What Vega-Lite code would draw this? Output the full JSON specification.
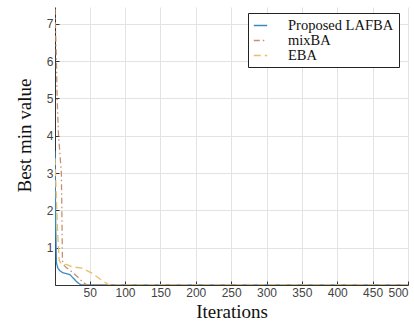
{
  "$schema": "https://vega.github.io/schema/vega-lite/v6.json",
  "width": 353,
  "height": 278,
  "autosize": "none",
  "padding": {"left": 55, "top": 7, "right": 6, "bottom": 36},
  "background": "white",
  "config": {
    "view": {"stroke": null},
    "axis": {
      "domainColor": "#333333",
      "gridColor": "#e3e3e3",
      "tickColor": "#333333",
      "labelColor": "#444444",
      "labelFont": "Liberation Sans",
      "labelFontSize": 11,
      "titleFont": "Liberation Serif",
      "titleFontSize": 19,
      "titleFontWeight": "normal",
      "titleColor": "#111111"
    }
  },
  "data": {
    "values": [
      {"series": "Proposed LAFBA", "iter": 1, "value": 3.6},
      {"series": "Proposed LAFBA", "iter": 2, "value": 1.6},
      {"series": "Proposed LAFBA", "iter": 3, "value": 0.6},
      {"series": "Proposed LAFBA", "iter": 5, "value": 0.45},
      {"series": "Proposed LAFBA", "iter": 8, "value": 0.38},
      {"series": "Proposed LAFBA", "iter": 12, "value": 0.33},
      {"series": "Proposed LAFBA", "iter": 16, "value": 0.31},
      {"series": "Proposed LAFBA", "iter": 22, "value": 0.28},
      {"series": "Proposed LAFBA", "iter": 27, "value": 0.18},
      {"series": "Proposed LAFBA", "iter": 31, "value": 0.1},
      {"series": "Proposed LAFBA", "iter": 34, "value": 0.05},
      {"series": "Proposed LAFBA", "iter": 38, "value": 0.0},
      {"series": "Proposed LAFBA", "iter": 500, "value": 0.0},
      {"series": "mixBA", "iter": 1, "value": 7.4},
      {"series": "mixBA", "iter": 3, "value": 6.0},
      {"series": "mixBA", "iter": 4, "value": 5.0},
      {"series": "mixBA", "iter": 6, "value": 4.0},
      {"series": "mixBA", "iter": 10, "value": 3.0},
      {"series": "mixBA", "iter": 11, "value": 1.5},
      {"series": "mixBA", "iter": 11.5, "value": 0.65},
      {"series": "mixBA", "iter": 13, "value": 0.55},
      {"series": "mixBA", "iter": 16, "value": 0.48},
      {"series": "mixBA", "iter": 22, "value": 0.4},
      {"series": "mixBA", "iter": 28, "value": 0.3},
      {"series": "mixBA", "iter": 34, "value": 0.2},
      {"series": "mixBA", "iter": 40, "value": 0.08},
      {"series": "mixBA", "iter": 46, "value": 0.0},
      {"series": "mixBA", "iter": 500, "value": 0.0},
      {"series": "EBA", "iter": 1, "value": 3.4},
      {"series": "EBA", "iter": 3, "value": 2.3},
      {"series": "EBA", "iter": 5, "value": 1.3},
      {"series": "EBA", "iter": 7, "value": 0.65},
      {"series": "EBA", "iter": 10, "value": 0.57},
      {"series": "EBA", "iter": 17, "value": 0.55},
      {"series": "EBA", "iter": 25, "value": 0.49},
      {"series": "EBA", "iter": 39, "value": 0.45},
      {"series": "EBA", "iter": 53, "value": 0.32},
      {"series": "EBA", "iter": 67, "value": 0.13},
      {"series": "EBA", "iter": 76, "value": 0.02},
      {"series": "EBA", "iter": 80, "value": 0.0},
      {"series": "EBA", "iter": 500, "value": 0.0}
    ]
  },
  "mark": {"type": "line", "strokeWidth": 1.3, "interpolate": "linear", "clip": true},
  "encoding": {
    "x": {
      "field": "iter",
      "type": "quantitative",
      "scale": {"domain": [1, 500], "nice": false, "zero": false},
      "axis": {
        "values": [50, 100, 150, 200, 250, 300, 350, 400, 450, 500],
        "title": "Iterations",
        "tickSize": -4,
        "labelPadding": 6,
        "labelFontSize": 12,
        "labelFlush": true,
        "labelOverlap": false,
        "titlePadding": 4,
        "grid": true
      }
    },
    "y": {
      "field": "value",
      "type": "quantitative",
      "scale": {"domain": [0, 7.45], "nice": false},
      "axis": {
        "values": [0, 1, 2, 3, 4, 5, 6, 7],
        "labelExpr": "datum.value == 0 ? '' : datum.label",
        "title": "Best min value",
        "tickSize": -4,
        "labelPadding": 6,
        "labelFontSize": 12,
        "titlePadding": 12,
        "titleY": 128,
        "grid": true
      }
    },
    "color": {
      "field": "series",
      "type": "nominal",
      "sort": ["Proposed LAFBA", "mixBA", "EBA"],
      "scale": {
        "domain": ["Proposed LAFBA", "mixBA", "EBA"],
        "range": ["#3a8abf", "#c8906f", "#e6c06a"]
      },
      "legend": {
        "title": null,
        "orient": "none",
        "legendX": 193,
        "legendY": 6,
        "direction": "vertical",
        "symbolType": "stroke",
        "symbolSize": 180,
        "symbolStrokeWidth": 1.3,
        "labelFont": "Liberation Serif",
        "labelFontSize": 14.5,
        "labelColor": "#111111",
        "labelOffset": 20,
        "rowPadding": 0,
        "padding": 5,
        "strokeColor": "#222222",
        "fillColor": "white",
        "labelLimit": 200
      }
    },
    "strokeDash": {
      "field": "series",
      "type": "nominal",
      "scale": {
        "domain": ["Proposed LAFBA", "mixBA", "EBA"],
        "range": [[1, 0], [6, 3, 1.5, 3], [7, 4]]
      },
      "legend": null
    }
  }
}
